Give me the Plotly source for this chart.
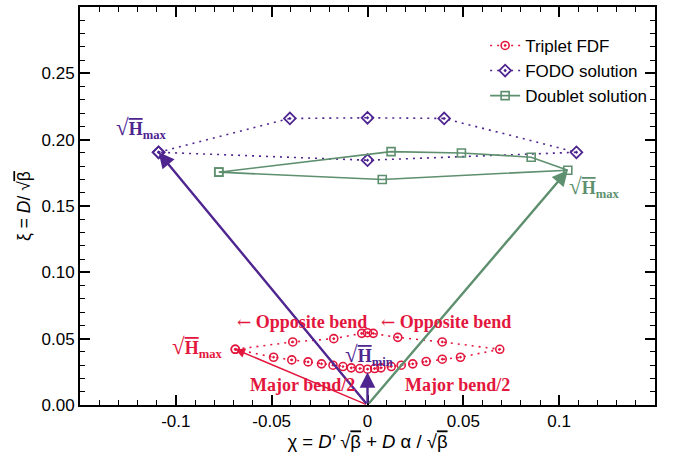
import plotly.graph_objects as go

# Triplet FDF: lower branch left -> right, then upper branch back to the start
triplet_chi = [-0.069, -0.049, -0.0395, -0.031, -0.024, -0.018, -0.0128, -0.0085, -0.004, 0.0,
               0.0037, 0.007, 0.0124, 0.0176, 0.0236, 0.0306, 0.039, 0.0485, 0.069,
               0.039, 0.0158, 0.003, 0.0, -0.003, -0.0176, -0.039, -0.069]
triplet_xi = [0.042, 0.036, 0.034, 0.0325, 0.031, 0.030, 0.029, 0.028, 0.0275, 0.027,
              0.0275, 0.028, 0.029, 0.030, 0.031, 0.0328, 0.0345, 0.036, 0.042,
              0.0475, 0.051, 0.054, 0.0545, 0.054, 0.050, 0.0475, 0.042]

# FODO solution (closed loop)
fodo_chi = [-0.109, -0.0405, 0.0, 0.040, 0.109, 0.0, -0.109]
fodo_xi = [0.1905, 0.216, 0.2165, 0.216, 0.1905, 0.1845, 0.1905]

# Doublet solution (closed loop)
doublet_chi = [-0.0776, 0.0123, 0.049, 0.0854, 0.1045, 0.0077, -0.0776]
doublet_xi = [0.1755, 0.191, 0.190, 0.1868, 0.177, 0.170, 0.1755]

x_tickvals = [-0.1, -0.05, 0, 0.05, 0.1]
x_ticktext = ["-0.1", "-0.05", "0", "0.05", "0.1"]
y_tickvals = [0.0, 0.05, 0.10, 0.15, 0.20, 0.25]
y_ticktext = ["0.00", "0.05", "0.10", "0.15", "0.20", "0.25"]

RED = "#E3173E"
PURPLE = "#4F2590"
GREEN = "#5E8F6E"

fig = go.Figure()

fig.add_trace(go.Scatter(
    x=triplet_chi, y=triplet_xi, mode="lines+markers", name="Triplet FDF",
    line=dict(color=RED, width=1.6, dash="2px,5px"),
    marker=dict(symbol="circle-open-dot", size=8, color=RED, line=dict(width=1.6, color=RED)),
))
fig.add_trace(go.Scatter(
    x=fodo_chi, y=fodo_xi, mode="lines+markers", name="FODO solution",
    line=dict(color=PURPLE, width=1.6, dash="2px,5px"),
    marker=dict(symbol="diamond-open-dot", size=9, color=PURPLE, line=dict(width=1.8, color=PURPLE)),
))
fig.add_trace(go.Scatter(
    x=doublet_chi, y=doublet_xi, mode="lines+markers", name="Doublet solution",
    line=dict(color=GREEN, width=1.6),
    marker=dict(symbol="square-open", size=8, color=GREEN, line=dict(width=1.6, color=GREEN)),
))

SERIF = "Liberation Serif"


def vector(x, y, color, width, standoff=0):
    fig.add_annotation(
        x=x, y=y, ax=0, ay=0, xref="x", yref="y", axref="x", ayref="y",
        text="", showarrow=True, arrowhead=2, arrowsize=1.3, arrowwidth=width,
        arrowcolor=color, standoff=standoff,
    )


# vectors from the origin to the extreme points of each solution
i_fodo = fodo_chi.index(min(fodo_chi))
i_doub = doublet_chi.index(max(doublet_chi))
i_trip = triplet_chi.index(min(triplet_chi))
i_min = triplet_xi.index(min(triplet_xi))
vector(triplet_chi[i_trip], triplet_xi[i_trip], RED, 1.5)
vector(fodo_chi[i_fodo], fodo_xi[i_fodo], PURPLE, 2.4)
vector(doublet_chi[i_doub], doublet_xi[i_doub], GREEN, 2.4)
vector(triplet_chi[i_min], triplet_xi[i_min], PURPLE, 2.4, standoff=3)


def sqrtH(sub):
    return ("<span style='font-size:23px'>√</span>"
            "<span style='text-decoration:overline'><b>H</b></span>"
            "<sub><b>%s</b></sub>" % sub)


def label(x, y, text, color, size=18):
    fig.add_annotation(x=x, y=y, xref="x", yref="y", text=text, showarrow=False,
                       font=dict(family=SERIF, size=size, color=color))


ARROW = "<span style='font-family:DejaVu Serif;font-size:17px'>←</span>"

label(-0.1184, 0.2086, sqrtH("max"), PURPLE)
label(0.118, 0.164, sqrtH("max"), GREEN)
label(0.001, 0.0375, sqrtH("min"), PURPLE)
label(-0.089, 0.0435, sqrtH("max"), RED)
label(-0.034, 0.0626, ARROW + " <b>Opposite bend</b>", RED)
label(0.041, 0.0626, ARROW + " <b>Opposite bend</b>", RED)
label(-0.034, 0.015, "<b>Major bend/2</b>", RED)
label(0.047, 0.015, "<b>Major bend/2</b>", RED)

SANS = "Liberation Sans"
axis_common = dict(
    showline=True, linecolor="black", linewidth=2, mirror="ticks",
    ticks="inside", ticklen=10, tickwidth=1.5, tickcolor="black",
    showgrid=False, zeroline=False,
    tickfont=dict(family=SANS, size=17, color="black"),
)

fig.update_xaxes(
    range=[-0.15, 0.15], tickvals=x_tickvals, ticktext=x_ticktext,
    minor=dict(dtick=0.01, ticks="inside", ticklen=5, tickwidth=1.2, tickcolor="black", showgrid=False),
    title=dict(text="χ = <i>D′</i> √<span style='text-decoration:overline'>β</span> + <i>D</i> α / √<span style='text-decoration:overline'>β</span>",
               font=dict(family=SANS, size=18.5, color="black"), standoff=4),
    **axis_common,
)
fig.update_yaxes(
    range=[0, 0.30], tickvals=y_tickvals, ticktext=y_ticktext,
    minor=dict(dtick=0.01, ticks="inside", ticklen=5, tickwidth=1.2, tickcolor="black", showgrid=False),
    title=dict(text="ξ = <i>D</i>/ √<span style='text-decoration:overline'>β</span>",
               font=dict(family=SANS, size=17.5, color="black"), standoff=6),
    **axis_common,
)

fig.update_layout(
    width=676, height=459,
    margin=dict(l=80, r=21, t=5, b=54),
    paper_bgcolor="white", plot_bgcolor="white",
    showlegend=True,
    legend=dict(x=0.995, y=0.9475, xanchor="right", yanchor="top",
                bgcolor="rgba(0,0,0,0)", font=dict(family=SANS, size=17, color="black"),
                itemwidth=30, tracegroupgap=0),
)

fig.write_html("out.html")
